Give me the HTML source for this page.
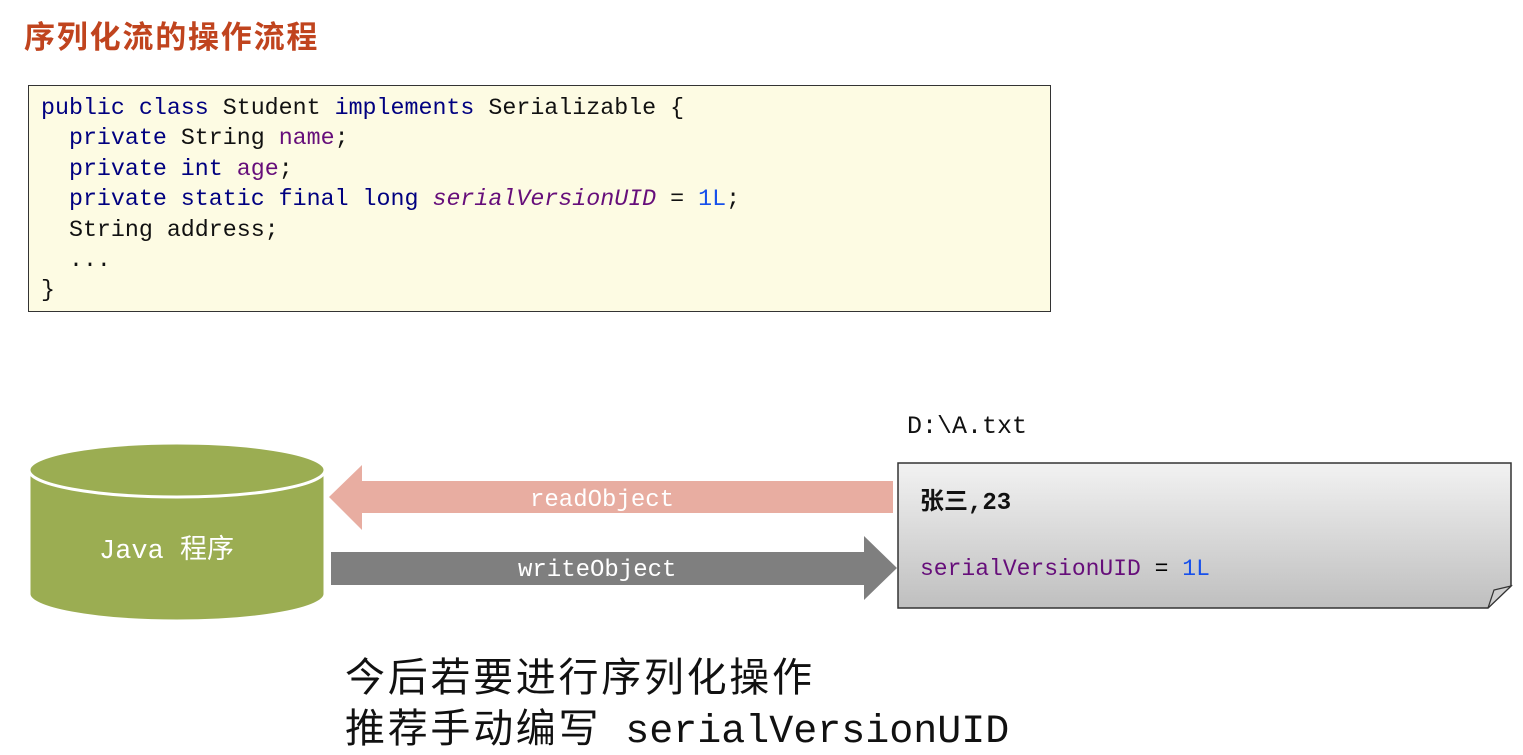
<!DOCTYPE html>
<html><head><meta charset="utf-8"><style>
body{margin:0;width:1523px;height:747px;background:#fff;position:relative;overflow:hidden;font-family:"Liberation Sans","Noto Sans CJK SC",sans-serif}
.a{position:absolute;white-space:pre}
.mono{font-family:"Liberation Mono","Noto Sans CJK SC",monospace}
.k{color:#000080}.f{color:#660e7a}.n{color:#1750eb}
</style></head><body>
<div class="a" style="left:24px;top:12px;font-size:31px;font-weight:bold;color:#c0441e;letter-spacing:1.8px;font-family:'Noto Sans CJK SC',sans-serif">序列化流的操作流程</div>
<div class="a" style="left:28px;top:85px;width:1021px;height:225px;background:#fdfbe3;border:1px solid #333"></div>
<div class="a mono" style="left:41px;top:93px;font-size:23.3px;line-height:30.4px;color:#111"><span class="k">public class</span> Student <span class="k">implements</span> Serializable {
  <span class="k">private</span> String <span class="f">name</span>;
  <span class="k">private int</span> <span class="f">age</span>;
  <span class="k">private static final long</span> <span class="f" style="font-style:italic">serialVersionUID</span> = <span class="n">1L</span>;
  String address;
  ...
}</div>
<svg class="a" style="left:0;top:0" width="1523" height="747">
<defs><linearGradient id="g" x1="0" y1="0" x2="0" y2="1"><stop offset="0" stop-color="#f2f2f2"/><stop offset="1" stop-color="#bfbfbf"/></linearGradient></defs>
<path d="M29 470 L29 594 A148 27 0 0 0 325 594 L325 470 Z" fill="#9bad52" stroke="#fff" stroke-width="3"/>
<ellipse cx="177" cy="470" rx="148" ry="27" fill="#9bad52" stroke="#fff" stroke-width="3"/>
<polygon points="329,497 362,465 362,481 893,481 893,513 362,513 362,530" fill="#e8ada1"/>
<polygon points="331,552 864,552 864,536 897,568 864,600 864,585 331,585" fill="#7f7f7f"/>
<polygon points="898,463 1511,463 1511,586 1488,608 898,608" fill="url(#g)" stroke="#333" stroke-width="1.5"/>
<polygon points="1488,608 1494,590 1511,586" fill="#cfcfcf" stroke="#333" stroke-width="1.2"/>
</svg>
<div class="a mono" style="left:99px;top:527px;font-size:27px;color:#fff">Java 程序</div>
<div class="a mono" style="left:530px;top:487px;font-size:24px;color:#fff">readObject</div>
<div class="a mono" style="left:518px;top:557px;font-size:24px;color:#fff">writeObject</div>
<div class="a mono" style="left:907px;top:412px;font-size:25px;color:#111">D:\A.txt</div>
<div class="a mono" style="left:920px;top:481px;font-size:24px;color:#111;font-weight:bold">张三,23</div>
<div class="a mono" style="left:920px;top:556px;font-size:23px"><span class="f">serialVersionUID</span> = <span class="n">1L</span></div>
<div class="a mono" style="left:345px;top:645px;font-size:40px;color:#111;letter-spacing:2.7px">今后若要进行序列化操作</div>
<div class="a mono" style="left:345px;top:696px;font-size:40px;color:#111"><span style="letter-spacing:2.7px">推荐手动编写</span> serialVersionUID</div>
</body></html>
